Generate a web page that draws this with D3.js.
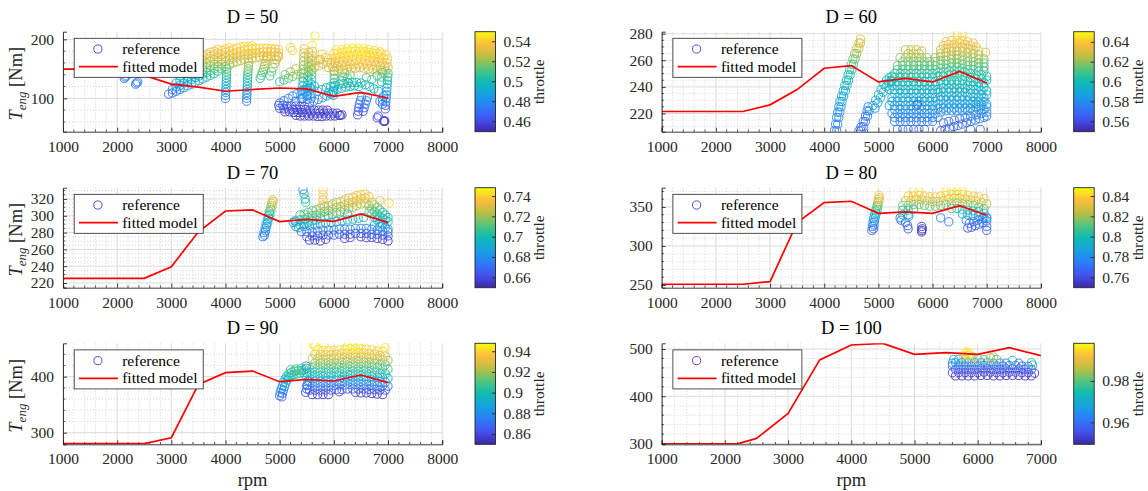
<!DOCTYPE html>
<html>
<head>
<meta charset="utf-8">
<script src="https://cdn.jsdelivr.net/npm/d3@7"></script>
<style>
  body { margin: 0; background: #fff; font-family: 'Liberation Serif'; }
  svg { display: block; }
  svg text { font-family: 'Liberation Serif' !important; }
  .lbl { font-size: 18.5px; fill: #262626; }
  .tck { font-size: 15.5px; fill: #262626; }
  .ttl { font-size: 18.5px; fill: #000; }
  .leg { font-size: 15.5px; fill: #000; }
</style>
</head>
<body>
<svg id="chart" width="1148" height="491">
  <!-- axis labels -->
  <text class="lbl" x="252.6" y="486" text-anchor="middle">rpm</text>
  <text class="lbl" x="851.3" y="486" text-anchor="middle">rpm</text>
  <text class="lbl" transform="translate(22,83.7) rotate(-90)" text-anchor="middle"><tspan font-style="italic">T</tspan><tspan font-style="italic" font-size="13" dy="4">eng</tspan><tspan dy="-4"> [Nm]</tspan></text>
  <text class="lbl" transform="translate(22,239.7) rotate(-90)" text-anchor="middle"><tspan font-style="italic">T</tspan><tspan font-style="italic" font-size="13" dy="4">eng</tspan><tspan dy="-4"> [Nm]</tspan></text>
  <text class="lbl" transform="translate(22,395.8) rotate(-90)" text-anchor="middle"><tspan font-style="italic">T</tspan><tspan font-style="italic" font-size="13" dy="4">eng</tspan><tspan dy="-4"> [Nm]</tspan></text>
</svg>
<script>
// ---------- data ----------
const demands = [50, 60, 70, 80, 90, 100];

// fitted engine torque curves, [rpm, Nm]
const fit50 = [[1000,149.5],[1500,149.5],[2000,148.5],[2500,139],[3000,124],[3500,119],[4000,112],[4500,115],[5000,117.5],[5500,116],[6000,103.5],[6500,110],[7000,100.5]];
const fit60 = [[1000,221.5],[1500,221.5],[2000,221.5],[2500,221.5],[3000,226.5],[3500,238],[4000,254],[4500,256],[5000,243.7],[5500,246.4],[6000,243.7],[6500,251.6],[7000,242.9]];
const fit70 = [[1000,225.6],[1500,225.6],[2000,225.6],[2500,225.6],[3000,239.4],[3500,281],[4000,305.7],[4500,306.9],[5000,293],[5500,295.8],[6000,293.4],[6500,302.1],[7000,291.8]];
const fit80 = [[1000,250.9],[1500,250.9],[2000,250.9],[2500,250.9],[3000,254.3],[3500,330],[4000,355.6],[4500,357.3],[5000,341.9],[5500,343.6],[6000,341.9],[6500,351.7],[7000,339.3]];
const fit90 = [[1000,280.4],[1500,280.4],[2000,280.4],[2500,280.4],[3000,291],[3500,386.3],[4000,407.1],[4500,410.1],[5000,391.1],[5500,395.2],[6000,392.3],[6500,403],[7000,389.3]];
const fit100 = [[1000,299.3],[1500,299.3],[2000,299.3],[2200,299.5],[2500,311],[3000,363.6],[3500,476.9],[4000,508.4],[4500,511.9],[5000,488.8],[5500,492.3],[6000,488.8],[6500,502.8],[7000,486]];

// measured reference points, [rpm, Nm, throttle]
const ref50 = [
[2130,134,.472],[2150,136,.474],[2170,138,.476],[2340,124,.472],[2360,126,.474],[2380,128,.476],
[2950,107,.468],[3020,109,.470],[3020,115,.476],[3090,112,.473],[3090,119,.48],[3090,126,.487],
[3160,115,.476],[3160,122,.483],[3160,130,.492],[3160,138,.50],
[3230,118,.479],[3230,126,.487],[3230,134,.496],[3230,142,.505],[3230,150,.512],
[3300,121,.482],[3300,129,.49],[3300,137,.50],[3300,145,.508],[3300,153,.516],
[3370,124,.485],[3370,132,.494],[3370,140,.503],[3370,148,.511],[3370,156,.519],[3370,162,.524],
[3440,127,.488],[3440,135,.497],[3440,143,.506],[3440,151,.514],[3440,159,.522],[3440,166,.528],
[3510,130,.492],[3510,138,.50],[3510,146,.509],[3510,154,.517],[3510,162,.524],[3510,169,.53],
[3580,133,.495],[3580,141,.504],[3580,149,.512],[3580,157,.52],[3580,165,.527],[3580,172,.532],
[3650,136,.498],[3650,144,.507],[3650,152,.515],[3650,160,.522],[3650,168,.529],[3650,175,.534],
[3720,139,.502],[3720,147,.51],[3720,155,.518],[3720,163,.525],[3720,171,.531],[3720,178,.536],
[3790,142,.505],[3790,150,.513],[3790,158,.52],[3790,166,.527],[3790,174,.533],[3790,180,.537],
[3860,146,.509],[3860,154,.517],[3860,162,.524],[3860,170,.53],[3860,177,.535],[3860,183,.539],
[3930,150,.513],[3930,158,.52],[3930,166,.527],[3930,174,.533],[3930,181,.538],
[4000,154,.517],[4000,162,.524],[4000,170,.53],[4000,178,.536],[4000,184,.54],
[4070,157,.52],[4070,165,.527],[4070,173,.532],[4070,180,.537],[4070,186,.541],
[4140,160,.522],[4140,168,.529],[4140,176,.535],[4140,183,.539],
[4210,162,.524],[4210,170,.53],[4210,178,.536],[4210,185,.541],
[4280,164,.526],[4280,172,.532],[4280,180,.537],[4280,187,.542],
[4350,166,.527],[4350,174,.533],[4350,182,.538],[4350,188,.543],
[4420,167,.528],[4420,175,.534],[4420,183,.539],[4420,188,.543],
[4490,168,.529],[4490,176,.535],[4490,184,.54],[4490,189,.544],
[4560,169,.53],[4560,177,.535],[4560,185,.541],
[4630,170,.53],[4630,178,.536],[4630,185,.541],
[4700,171,.531],[4700,179,.537],[4700,185,.541],
[4770,171,.531],[4770,179,.537],[4770,185,.541],
[4840,171,.531],[4840,179,.537],[4840,184,.54],
[4910,171,.531],[4910,178,.536],[4910,184,.54],
[4980,170,.53],[4980,177,.535],[4980,183,.539],
[4000,100,.475],[4000,105,.478],[4005,110,.482],[4005,115,.486],[4010,120,.49],[4010,125,.494],[4015,130,.498],[4015,135,.502],[4020,140,.506],[4020,145,.51],[4025,150,.514],
[4390,95,.472],[4390,100,.475],[4395,105,.479],[4395,110,.483],[4400,115,.487],[4400,120,.491],[4405,125,.495],[4405,130,.499],[4410,135,.503],[4410,140,.507],[4415,145,.511],[4420,150,.515],[4425,155,.519],[4430,160,.523],
[4640,134,.505],[4660,139,.509],[4680,144,.513],[4700,149,.517],[4715,154,.521],[4730,159,.525],[4745,164,.529],[4760,169,.532],
[4820,138,.508],[4850,145,.512],[4880,152,.517],[4910,159,.522],[4940,166,.528],[4970,172,.532],
[5200,186,.54],[5230,181,.542],[5650,206,.545],[5600,190,.545],[5780,175,.54],[5720,165,.535],
[5420,100,.48],[5420,107,.485],[5425,114,.49],[5425,121,.494],[5430,128,.498],[5430,135,.503],[5435,142,.508],[5435,149,.512],[5440,156,.517],[5440,163,.521],[5445,170,.526],[5445,177,.53],[5450,184,.535],
[5510,98,.478],[5510,106,.484],[5515,114,.49],[5515,122,.495],[5520,130,.50],[5520,138,.505],[5525,146,.51],[5525,154,.516],[5530,162,.522],[5530,170,.527],[5535,178,.532],
[5580,100,.482],[5580,108,.487],[5585,116,.492],[5585,124,.497],[5590,132,.502],[5590,140,.507],[5595,148,.512],[5595,156,.518],[5600,164,.523],[5600,172,.528],[5605,180,.533],
[5300,71,.455],[5380,70,.455],[5460,70,.455],[5540,70,.455],[5620,70,.455],[5700,69,.455],[5780,69,.455],[5860,70,.455],[5940,70,.455],[6020,70,.455],[6100,71,.455],[6150,72,.455],
[5100,77,.457],[5180,77,.457],[5260,76,.456],[5340,76,.456],[5420,76,.456],[5500,75,.456],[5580,75,.456],[5660,75,.456],[5740,75,.456],[5820,75,.456],[5900,75,.456],[5980,75,.456],[6060,75,.456],
[5000,83,.46],[5080,82,.459],[5160,82,.459],[5240,81,.458],[5320,81,.458],[5400,81,.458],[5480,81,.458],[5560,80,.458],[5640,80,.458],[5720,80,.458],[5800,80,.458],[5880,80,.458],
[4980,88,.464],[5060,88,.462],[5140,87,.461],[5220,87,.461],[5300,87,.46],[5380,86,.46],[5460,86,.46],
[5000,92,.468],[5080,96,.471],[5160,100,.474],[5240,104,.477],[5320,108,.48],[5400,112,.483],[5480,115,.486],[5560,118,.489],[5640,121,.491],
[5550,92,.47],[5630,95,.473],[5710,98,.476],[5790,101,.479],[5870,104,.482],[5950,107,.485],
[5300,95,.47],[5400,100,.474],[5500,104,.477],
[5700,112,.49],[5780,115,.492],[5860,118,.494],[5940,120,.496],[6020,122,.497],[6100,124,.498],[6180,125,.499],[6260,126,.50],[6340,127,.50],[6420,127,.50],[6500,126,.50],[6580,123,.498],[6660,120,.496],[6740,116,.494],[6820,112,.492],
[5900,110,.488],[5980,112,.49],[6060,115,.492],[6140,117,.494],[6220,119,.495],[6300,120,.496],[6380,121,.497],[6460,120,.496],
[5000,128,.505],[5080,131,.509],[5160,134,.513],[5240,137,.516],[5320,140,.519],[5400,143,.522],[5480,146,.524],[5560,149,.526],[5640,152,.528],[5720,155,.53],[5800,158,.531],[5880,161,.532],
[5100,140,.515],[5200,145,.52],[5300,150,.524],[5650,163,.53],[5750,166,.532],[5850,169,.534],
[5990,105,.49],[5995,112,.494],[6000,119,.498],[6000,126,.502],[6005,133,.507],[6005,140,.511],[6010,147,.516],
[6150,130,.505],[6170,136,.509],[6200,142,.513],[6250,134,.507],[6300,140,.51],
[6000,146,.525],[6080,147,.526],[6160,148,.527],[6240,149,.528],[6320,150,.529],[6400,151,.53],[6480,152,.53],[6560,151,.53],[6640,150,.529],[6720,149,.528],[6800,148,.527],[6880,147,.526],[6960,146,.525],
[5900,152,.53],[5980,153,.531],[6060,154,.532],[6140,155,.533],[6220,156,.534],[6300,157,.535],[6380,158,.536],[6460,158,.536],[6540,158,.536],[6620,157,.535],[6700,156,.534],[6780,155,.533],[6860,154,.532],[6940,153,.531],[7000,152,.53],
[5940,160,.534],[6020,161,.535],[6100,162,.536],[6180,163,.537],[6260,164,.538],[6340,165,.539],[6420,166,.54],[6500,166,.54],[6580,165,.539],[6660,164,.538],[6740,163,.537],[6820,162,.536],[6900,161,.535],[6980,160,.534],
[5950,168,.538],[6030,169,.539],[6110,170,.54],[6190,171,.541],[6270,172,.542],[6350,173,.542],[6430,174,.543],[6510,174,.543],[6590,173,.542],[6670,172,.542],[6750,171,.541],[6830,170,.54],[6910,169,.539],[6990,167,.538],
[6000,176,.542],[6080,177,.543],[6160,178,.543],[6240,179,.544],[6320,180,.544],[6400,180,.544],[6480,180,.544],[6560,179,.544],[6640,178,.543],[6720,177,.543],[6800,176,.542],[6880,175,.542],[6960,174,.541],
[6050,182,.544],[6150,183,.545],[6250,184,.545],[6350,185,.545],[6450,185,.545],[6550,184,.545],[6650,183,.544],[6750,181,.544],[6850,179,.543],
[6600,135,.51],[6700,132,.508],[6800,138,.512],[6880,128,.505],[6880,136,.51],[6900,144,.515],
[6950,82,.465],[6955,88,.469],[6960,94,.473],[6965,100,.477],[6970,106,.481],[6975,112,.485],[6980,118,.489],[6985,124,.494],[6990,130,.499],[6995,136,.504],[7000,142,.51],
[6900,90,.47],[6900,97,.475],[6920,104,.48],[6850,95,.475],
[6440,72,.46],[6450,78,.463],[6460,84,.466],[6470,90,.47],[6490,96,.474],[6510,102,.478],[6540,78,.462],[6560,84,.466],[6580,90,.47],[6600,96,.474],[6620,102,.478],
[6920,61,.455],[6930,62,.455],[6940,61,.455],[6800,67,.46],[6820,70,.462],[6120,71,.456]
];

const ref60 = [
[4190,207,.574],[4210,212,.576],[4230,217,.578],[4250,221,.58],[4270,225,.583],[4290,229,.586],[4320,233,.589],[4350,237,.592],[4380,241,.595],[4410,245,.598],[4440,249,.601],[4470,253,.605],[4500,257,.61],[4530,261,.615],[4560,265,.62],[4600,269,.625],[4640,273,.63],[4670,276,.632],
[4230,207,.575],[4250,212,.577],[4270,217,.579],[4290,221,.581],[4310,225,.584],[4330,229,.587],[4360,233,.59],[4390,237,.593],[4420,241,.596],[4450,245,.599],[4480,249,.602],[4510,253,.606],[4540,257,.611],[4570,261,.616],[4600,265,.621],[4640,269,.626],[4670,273,.631],
[4640,207,.568],[4680,210,.57],[4720,214,.572],[4760,218,.574],[4790,222,.576],[4810,225,.578],
[4680,207,.568],[4720,210,.57],[4760,214,.572],[4800,218,.574],[4830,222,.576],
[4900,226,.588],[4950,230,.59],[5000,234,.592],[5050,238,.594],[5100,242,.596],[5150,245,.598],[5200,247,.6],[5250,248,.6],
[4940,224,.587],[4990,228,.589],[5040,232,.591],[5090,236,.593],[5140,240,.595],[5190,243,.597],[5240,245,.598],
[6150,207,.565],[6230,208,.566],[6310,209,.567],[6390,210,.568],[6470,211,.569],[6550,212,.57],[6630,213,.571],[6710,214,.572],[6790,215,.573],[6870,216,.574],[6950,217,.575],[7000,218,.576],
[6200,213,.568],[6300,214,.569],[6400,215,.57],[6500,216,.571],[6600,217,.572],[6700,218,.573],[6800,219,.574],[6900,220,.575],[7000,221,.576],
[5350,208,.57],[5450,208,.57],[5550,208,.57],[5650,208,.57],[5750,208,.57],[5850,208,.57],[6700,208,.568],[6880,208,.568],
[5300,214,.574],[5400,214,.574],[5500,214,.574],[5600,214,.574],[5700,214,.574],[5800,214,.574],[5900,214,.574],[6000,214,.574],
[5300,217,.576],[5400,217,.576],[5500,217,.576],[5600,217,.576],[5700,217,.576],[5800,217,.576],[5900,217,.576],[6000,217,.576],[6100,217,.576],
[5250,220,.578],[5350,220,.578],[5450,220,.579],[5550,220,.579],[5650,220,.579],[5750,220,.579],[5850,220,.579],[5950,220,.579],[6050,220,.579],[6150,221,.58],[6250,222,.58],[6350,222,.58],[6450,222,.58],[6550,222,.58],[6650,222,.58],[6750,222,.58],[6850,223,.581],[6950,223,.581],
[5300,223,.581],[5400,223,.581],[5500,223,.581],[5600,223,.581],[5700,223,.581],[5800,223,.581],[5900,223,.581],[6000,223,.581],[6100,224,.582],[6200,224,.582],[6300,224,.582],[6400,224,.582],[6500,224,.582],[6600,224,.582],[6700,224,.582],[6800,225,.583],[6900,225,.583],[7000,225,.583],
[5200,226,.583],[5300,226,.583],[5400,226,.584],[5500,226,.584],[5600,226,.584],[5700,226,.584],[5800,226,.584],[5900,226,.584],[6000,226,.584],[6100,227,.585],[6200,227,.585],[6300,227,.585],[6400,227,.585],[6500,227,.585],[6600,227,.585],[6700,227,.585],[6800,227,.585],[6900,227,.585],[7000,227,.585],
[5250,229,.586],[5350,229,.586],[5450,229,.586],[5550,229,.586],[5650,229,.586],[5750,229,.586],[5850,229,.586],[5950,229,.586],[6050,229,.586],[6150,230,.587],[6250,230,.587],[6350,230,.587],[6450,230,.587],[6550,230,.587],[6650,230,.587],[6750,229,.586],[6850,229,.586],[6950,229,.586],
[5250,232,.588],[5350,232,.588],[5450,232,.589],[5550,232,.589],[5650,232,.589],[5750,232,.589],[5850,232,.589],[5950,232,.589],[6050,232,.589],[6150,233,.59],[6250,233,.59],[6350,233,.59],[6450,233,.59],[6550,233,.59],[6650,233,.59],[6750,232,.589],[6850,232,.589],[6950,232,.589],
[5300,235,.591],[5400,235,.591],[5500,235,.591],[5600,235,.591],[5700,235,.591],[5800,235,.591],[5900,235,.591],[6000,235,.591],[6100,236,.592],[6200,236,.592],[6300,236,.592],[6400,236,.592],[6500,236,.592],[6600,236,.592],[6700,235,.591],[6800,235,.591],[6900,234,.59],[7000,234,.59],
[5200,238,.593],[5300,238,.593],[5400,238,.594],[5500,238,.594],[5600,238,.594],[5700,238,.594],[5800,238,.594],[5900,238,.594],[6000,238,.594],[6100,238,.594],[6200,239,.595],[6300,239,.595],[6400,239,.595],[6500,239,.595],[6600,239,.595],[6700,238,.594],[6800,238,.594],[6900,237,.594],[7000,237,.594],
[5250,241,.596],[5350,241,.596],[5450,241,.596],[5550,241,.596],[5650,241,.596],[5750,241,.596],[5850,241,.596],[5950,241,.596],[6050,241,.596],[6150,242,.597],[6250,242,.597],[6350,242,.597],[6450,242,.597],[6550,242,.597],[6650,241,.596],[6750,241,.596],[6850,240,.595],[6950,240,.595],
[5250,244,.598],[5350,244,.598],[5450,244,.599],[5550,244,.599],[5650,244,.599],[5750,244,.599],[5850,244,.599],[5950,244,.599],[6050,244,.599],[6150,245,.60],[6250,245,.60],[6350,245,.60],[6450,245,.60],[6550,245,.60],[6650,244,.599],[6750,244,.599],[6850,243,.598],[6950,243,.598],
[5300,247,.601],[5400,247,.601],[5500,247,.601],[5600,247,.601],[5700,247,.601],[5800,247,.601],[5900,247,.601],[6000,247,.601],[6100,248,.602],[6200,248,.602],[6300,249,.603],[6400,249,.603],[6500,249,.603],[6600,248,.602],[6700,247,.601],[6800,246,.60],[6900,246,.60],[7000,245,.60],
[5300,250,.603],[5400,250,.604],[5500,250,.604],[5600,250,.604],[5700,250,.604],[5800,250,.604],[5900,250,.604],[6000,250,.604],[6100,251,.605],[6200,251,.605],[6300,252,.606],[6400,252,.606],[6500,252,.606],[6600,251,.605],[6700,250,.604],[6800,249,.603],[6900,249,.603],[7000,248,.602],
[5350,253,.607],[5450,253,.607],[5550,253,.607],[5650,253,.607],[5750,253,.607],[5850,253,.607],[5950,253,.607],[6050,253,.607],[6150,254,.608],[6250,254,.608],[6350,255,.609],[6450,255,.609],[6550,254,.608],[6650,253,.607],[6750,253,.607],[6850,252,.606],[6950,252,.606],
[5350,256,.61],[5450,256,.611],[5550,256,.611],[5650,256,.611],[5750,256,.611],[5850,256,.611],[5950,256,.611],[6050,256,.611],[6150,257,.612],[6250,257,.612],[6350,258,.613],[6450,258,.613],[6550,257,.612],[6650,256,.611],[6750,256,.611],[6850,255,.61],[6950,255,.61],
[5450,259,.615],[5550,259,.615],[5650,259,.615],[5750,259,.615],[5850,259,.615],[5950,259,.615],[6050,259,.615],[6150,260,.616],[6250,260,.617],[6350,261,.618],[6450,261,.618],[6550,260,.617],[6650,259,.615],[6750,259,.615],[6850,258,.614],[6950,258,.614],
[5400,262,.619],[5500,262,.62],[5600,262,.62],[5700,262,.62],[5800,262,.62],[5900,262,.62],[6050,262,.62],[6150,263,.621],[6250,263,.622],[6350,264,.623],[6450,264,.623],[6550,263,.622],[6650,262,.62],[6750,262,.62],[6850,261,.619],[6950,261,.619],
[5550,265,.624],[5650,265,.624],[5750,265,.624],[6150,265,.624],[6250,266,.625],[6350,267,.626],[6450,267,.627],[6550,267,.627],[6650,266,.625],[6750,265,.624],[6850,264,.623],
[5500,268,.628],[5600,268,.628],[5700,268,.628],[5800,267,.627],[6150,268,.628],[6250,269,.629],[6350,269,.63],[6450,270,.631],[6550,270,.631],[6650,269,.63],[6750,268,.628],[6850,267,.627],
[6200,271,.633],[6300,272,.634],[6400,272,.635],[6500,273,.636],[6600,272,.635],[6700,271,.633],[6800,270,.632],
[6250,274,.637],[6350,275,.638],[6450,275,.638],[6550,275,.638],[6650,274,.637],[6750,273,.636],
[6450,279,.644],[6550,280,.645],[6980,266,.63],[5720,227,.56]
];

const ref70 = [
[4690,275,.672],[4710,280,.676],[4730,285,.68],[4750,290,.685],[4770,295,.69],[4790,300,.697],[4810,305,.705],[4830,310,.715],[4850,315,.725],[4870,319,.733],
[4720,277,.674],[4740,282,.678],[4760,287,.682],[4780,292,.687],[4800,297,.693],[4820,302,.70],[4840,307,.71],[4860,312,.72],[4880,317,.73],
[5250,292,.682],[5280,294,.69],
[5300,287,.692],[5375,289,.694],[5450,290,.696],[5525,292,.698],[5600,294,.70],[5675,295,.702],[5750,297,.704],[5825,299,.706],[5900,300,.708],[5975,302,.71],[6050,304,.712],[6125,305,.714],[6200,307,.716],[6275,309,.718],[6350,310,.72],[6425,312,.722],[6500,314,.724],[6575,315,.726],
[5300,293,.70],[5375,295,.702],[5450,296,.704],[5525,298,.706],[5600,300,.708],[5675,301,.71],[5750,303,.712],[5825,305,.714],[5900,306,.716],[5975,308,.718],[6050,310,.72],[6125,311,.722],[6200,313,.724],[6275,315,.726],[6350,316,.728],[6425,318,.73],[6500,320,.732],[6575,321,.734],[6650,323,.735],
[5375,301,.707],[5450,302,.709],[5525,304,.711],[5600,306,.713],[5675,307,.715],[5750,309,.717],[5825,311,.719],[5900,312,.721],[5975,314,.723],[6050,316,.725],[6125,317,.727],[6200,319,.729],[6275,321,.731],[6350,322,.733],[6425,324,.735],[6500,325,.737],[6575,326,.738],
[5350,286,.685],[5450,287,.686],[5550,288,.687],[5650,289,.688],[5750,290,.689],[5850,291,.69],[5950,292,.691],[6050,293,.692],[6150,294,.693],[6250,295,.694],[6350,296,.695],[6450,297,.696],[6550,298,.697],
[5400,281,.673],[5500,281,.673],[5600,281,.673],[5700,282,.674],[5800,283,.675],[5900,283,.675],[6000,283,.675],[6100,284,.676],[6200,284,.676],[6300,284,.676],[6400,285,.677],[6500,285,.677],[6600,285,.677],[6700,284,.676],[6800,283,.675],[6900,282,.674],[7000,281,.673],
[5500,275,.663],[5600,276,.664],[5700,276,.664],[5800,277,.665],[5900,277,.665],[6000,277,.665],[6100,278,.666],[6200,278,.666],[6300,278,.666],[6400,279,.667],[6500,279,.667],[6600,279,.667],[6700,278,.666],[6800,278,.666],[6900,277,.665],[7000,276,.664],
[5550,271,.656],[5650,271,.656],[5750,270,.655],[5850,272,.657],[6200,273,.658],[6300,274,.659],[6500,275,.66],[6600,274,.659],[6700,274,.659],[6800,273,.658],[6900,272,.657],[7000,270,.655],
[6650,312,.72],[6700,308,.715],[6750,305,.71],[6800,302,.705],[6850,299,.70],[6900,297,.698],[6950,295,.695],[7000,293,.692],
[6700,316,.725],[6750,313,.72],[6800,310,.712],[6850,307,.708],[6900,304,.705],[6950,301,.702],[7000,298,.70],
[6650,305,.712],[6700,302,.708],[6750,298,.703],[6800,295,.698],[6850,292,.694],[6900,290,.69],
[6750,289,.685],[6850,287,.683],[6950,286,.682],[7000,284,.68],
[5430,331,.68],[5450,326,.69],[5470,320,.70],[5480,316,.705],[5800,331,.74],[5800,325,.738],[5800,319,.735],[5800,313,.732],[6850,318,.735],[7020,315,.742],[6250,302,.70]
];

const ref80 = [
[4880,320,.765],[4890,325,.772],[4900,330,.778],[4910,335,.785],[4930,340,.792],[4950,345,.80],[4970,350,.81],[4985,355,.82],[5000,360,.83],[5010,365,.838],
[4910,322,.767],[4920,327,.774],[4930,332,.78],[4945,337,.788],[4960,342,.795],[4980,347,.805],[4995,352,.815],[5010,357,.825],[5020,362,.834],
[5400,336,.775],[5420,333,.772],[5500,330,.77],[5540,326,.768],[5550,322,.765],[5560,338,.78],
[5650,370,.843],[5750,370,.843],[6250,370,.843],[6350,371,.844],[6450,371,.844],[6550,370,.843],
[5550,364,.838],[5650,364,.838],[5750,365,.839],[5850,364,.838],[5950,363,.837],[6050,363,.837],[6150,364,.838],[6250,365,.839],[6350,366,.84],[6450,366,.84],[6550,366,.84],[6650,365,.839],[6750,364,.838],[6850,363,.837],[6950,361,.835],
[5500,358,.828],[5600,358,.828],[5700,359,.829],[5800,359,.829],[5900,358,.828],[6000,357,.827],[6100,357,.827],[6200,358,.828],[6300,360,.83],[6400,361,.831],[6500,361,.831],[6600,360,.83],[6700,359,.829],[6800,358,.828],[6900,356,.826],[7000,354,.824],
[5450,352,.815],[5550,352,.815],[5650,353,.817],[5750,353,.817],[5850,352,.815],[5950,351,.814],[6050,351,.814],[6150,352,.815],[6250,353,.817],[6350,354,.818],[6450,355,.819],[6550,354,.818],[6650,353,.817],[6750,352,.815],[6850,350,.812],[6950,348,.81],
[5450,346,.80],[5550,346,.80],[5650,347,.802],[6350,348,.804],[6450,348,.804],[6550,347,.802],[6650,346,.80],[6750,345,.798],[6850,344,.796],[6950,342,.794],
[5450,340,.79],[5550,340,.79],[6550,341,.791],[6650,340,.79],[6750,339,.789],[6850,338,.787],[6950,336,.785],[7000,335,.784],
[6650,323,.762],[6720,324,.764],[6790,326,.766],[6860,328,.768],[6930,330,.77],[7000,332,.772],
[6680,329,.768],[6760,331,.77],[6840,333,.772],[6920,335,.775],[7000,337,.778],
[5800,320,.752],[5800,318,.752],[5810,322,.754],[5800,325,.756],
[6150,336,.78],[6300,331,.775],[7000,320,.765],[7000,325,.77],[6620,333,.78]
];

const ref90 = [
[5000,366,.87],[5010,372,.875],[5030,378,.88],[5050,384,.885],[5070,390,.89],[5100,396,.895],[5130,401,.90],[5170,405,.903],[5220,408,.905],[5280,410,.906],[5340,411,.907],[5400,411,.907],[5460,412,.908],
[5040,364,.868],[5050,370,.872],[5070,376,.877],[5090,382,.882],[5110,388,.887],[5140,394,.892],[5170,399,.897],[5210,402,.90],[5260,404,.902],[5320,405,.903],[5380,406,.904],[5440,407,.905],[5500,407,.905],
[5200,412,.906],[5300,414,.908],[5400,415,.909],
[5480,372,.86],[5500,378,.865],[5510,385,.87],[5520,392,.878],[5500,415,.89],[5490,419,.875],
[5600,368,.855],[5700,368,.855],[5800,368,.855],[5900,368,.855],[6400,372,.857],[6500,371,.856],[6600,371,.856],[6700,370,.855],[6800,369,.855],[6900,368,.855],
[5550,376,.863],[5650,376,.863],[5750,376,.863],[5850,376,.863],[5950,376,.863],[6050,377,.864],[6150,377,.864],[6250,378,.865],[6350,378,.865],[6450,378,.865],[6550,378,.865],[6650,377,.864],[6750,377,.864],[6850,376,.863],[6950,376,.863],
[5500,384,.872],[5600,384,.872],[5700,384,.872],[5800,384,.872],[5900,384,.872],[6000,384,.872],[6100,385,.873],[6200,385,.873],[6300,386,.874],[6400,386,.874],[6500,386,.874],[6600,386,.874],[6700,385,.873],[6800,384,.872],[6900,384,.872],[7000,383,.871],
[5550,392,.882],[5650,392,.882],[5750,392,.882],[5850,392,.882],[5950,392,.882],[6050,393,.883],[6150,393,.883],[6250,394,.884],[6350,394,.884],[6450,394,.884],[6550,394,.884],[6650,393,.883],[6750,392,.882],[6850,391,.881],[6950,390,.88],
[5500,400,.892],[5600,400,.892],[5700,400,.892],[5800,400,.892],[5900,400,.892],[6000,400,.892],[6100,401,.893],[6200,401,.893],[6300,402,.894],[6400,402,.894],[6500,402,.894],[6600,401,.893],[6700,400,.892],[6800,399,.891],[6900,398,.89],[7000,397,.889],
[5550,408,.90],[5650,408,.90],[5750,408,.90],[5850,407,.90],[5950,407,.90],[6050,408,.90],[6150,409,.901],[6250,409,.901],[6350,410,.902],[6450,410,.902],[6550,410,.902],[6650,409,.901],[6750,408,.90],[6850,406,.898],[6950,405,.897],
[5600,416,.908],[5700,416,.908],[5800,416,.908],[5900,415,.907],[6000,416,.908],[6100,417,.909],[6200,417,.909],[6300,418,.91],[6400,418,.91],[6500,418,.91],[6600,418,.91],[6700,417,.909],[6800,416,.908],[6900,414,.906],[7000,413,.905],
[5650,424,.915],[5750,424,.915],[5850,423,.914],[5950,423,.914],[6050,424,.915],[6150,425,.916],[6250,426,.917],[6350,426,.917],[6450,427,.918],[6550,426,.917],[6650,425,.916],[6750,424,.915],[6850,422,.913],[6950,421,.912],
[5600,432,.923],[5700,432,.923],[5800,431,.922],[5900,431,.922],[6000,432,.923],[6100,433,.924],[6200,434,.925],[6300,434,.925],[6400,435,.926],[6500,435,.926],[6600,434,.925],[6700,433,.924],[6800,432,.923],[6900,430,.921],[7000,429,.92],
[5650,440,.93],[5750,440,.93],[5850,439,.93],[5950,439,.93],[6050,440,.93],[6150,441,.931],[6250,442,.932],[6350,442,.932],[6450,443,.933],[6550,442,.932],[6650,441,.931],[6750,440,.93],[6850,438,.929],[6950,437,.928],
[5700,448,.94],[5800,447,.939],[5900,446,.938],[6000,447,.939],[6100,448,.94],[6200,449,.941],[6300,450,.942],[6400,450,.942],[6500,450,.942],[6600,449,.941],[6700,448,.94],[6800,446,.938],[6900,445,.937],
[5650,455,.945],[6250,455,.945],[6350,456,.946],[6450,455,.945],
[5620,458,.945],[5820,458,.945],[6950,452,.945],[6100,373,.86]
];

const ref100 = [
[5650,443,.951],[5750,443,.951],[5850,443,.951],[5950,443,.951],[6050,444,.951],[6150,444,.951],[6250,443,.951],[6350,443,.951],[6450,444,.951],[6550,444,.951],[6650,444,.951],[6750,443,.951],[6850,443,.951],
[5600,450,.953],[5700,450,.953],[5800,450,.953],[5900,450,.953],[6000,450,.953],[6100,451,.953],[6200,451,.953],[6300,450,.953],[6400,450,.953],[6500,451,.953],[6600,451,.953],[6700,450,.953],[6800,450,.953],[6900,449,.952],
[5650,457,.956],[5750,457,.956],[5850,457,.956],[5950,457,.956],[6050,458,.956],[6150,458,.956],[6250,457,.956],[6350,457,.956],[6450,458,.956],[6550,458,.956],[6650,458,.956],[6750,457,.956],[6850,457,.956],
[5600,464,.959],[5700,464,.959],[5800,464,.959],[5900,464,.959],[6000,464,.959],[6100,465,.96],[6200,465,.96],[6300,464,.959],[6400,464,.959],[6500,465,.96],[6600,465,.96],[6700,464,.959],[6800,463,.958],
[5650,471,.963],[5750,471,.963],[5850,471,.963],[5950,471,.963],[6050,471,.963],[6150,471,.963],[6250,470,.962],[6350,470,.962],[6450,470,.962],[6650,470,.962],
[6550,476,.975],[6850,471,.976],[6870,466,.972],[5600,470,.965],[5620,478,.968],
[5700,478,.97],[5800,478,.975],[5900,479,.98],[6000,479,.982],[6100,478,.98],[6200,481,.984],[6250,483,.986],[6300,478,.98],
[5780,485,.99],[5850,486,.993],[5920,484,.99],
[5800,491,.996],[5830,494,.997],[5860,490,.995]
];

// axis ticks
const rpmTicks8000 = [1000,2000,3000,4000,5000,6000,7000,8000];
const rpmTicks7000 = [1000,2000,3000,4000,5000,6000,7000];
const torqueTicks50 = [100,200];
const torqueTicks60 = [220,240,260,280];
const torqueTicks70 = [220,240,260,280,300,320];
const torqueTicks80 = [250,300,350];
const torqueTicks90 = [300,400];
const torqueTicks100 = [300,400,500];
const throttleTicks50 = [0.46,0.48,0.50,0.52,0.54];
const throttleTicks60 = [0.56,0.58,0.60,0.62,0.64];
const throttleTicks70 = [0.66,0.68,0.70,0.72,0.74];
const throttleTicks80 = [0.76,0.78,0.80,0.82,0.84];
const throttleTicks90 = [0.86,0.88,0.90,0.92,0.94];
const throttleTicks100 = [0.96,0.98];

// ---------- panel setup ----------
const panels = [
  {D: demands[0], col: 0, row: 0, x: [1000,8000], xt: rpmTicks8000, y: [43.4,213],   yt: torqueTicks50,  ym: 20, c: [0.4495,0.5496], ct: throttleTicks50,  fit: fit50,  ref: ref50},
  {D: demands[1], col: 1, row: 0, x: [1000,8000], xt: rpmTicks8000, y: [206.3,281.5], yt: torqueTicks60,  ym: 5,  c: [0.5494,0.6502], ct: throttleTicks60,  fit: fit60,  ref: ref60},
  {D: demands[2], col: 0, row: 1, x: [1000,8000], xt: rpmTicks8000, y: [214.4,333.4], yt: torqueTicks70,  ym: 5,  c: [0.6498,0.7482], ct: throttleTicks70,  fit: fit70,  ref: ref70},
  {D: demands[3], col: 1, row: 1, x: [1000,8000], xt: rpmTicks8000, y: [246.5,374.7], yt: torqueTicks80,  ym: 10, c: [0.7498,0.8482], ct: throttleTicks80,  fit: fit80,  ref: ref80},
  {D: demands[4], col: 0, row: 2, x: [1000,8000], xt: rpmTicks8000, y: [279.3,459.6], yt: torqueTicks90,  ym: 20, c: [0.8500,0.9477], ct: throttleTicks90,  fit: fit90,  ref: ref90},
  {D: demands[5], col: 1, row: 2, x: [1000,7000], xt: rpmTicks7000, y: [298.5,512],   yt: torqueTicks100, ym: 20, c: [0.9494,0.9982], ct: throttleTicks100, fit: fit100, ref: ref100}
];

const colLeft = [63, 661.7];
const rowTop = [31.7, 187.7, 343.3];
const rowH = [100, 100, 101];
const plotW = 379.2;
const axisColor = "#262626";

// parula-like colour map
const parula = d3.piecewise(d3.interpolateRgb, [
  "#3e26a8", "#4352ef", "#2d7cf8", "#17a2e0", "#0ebbb3", "#53c57c", "#bcbe43", "#fcbd3d", "#f9fb0e"
]);

const svg = d3.select("#chart");
const defs = svg.append("defs");

// shared vertical gradient for the colour bars
const grad = defs.append("linearGradient").attr("id", "cbgrad")
  .attr("x1", 0).attr("y1", 1).attr("x2", 0).attr("y2", 0);
d3.range(0, 1.0001, 0.02).forEach(t => {
  grad.append("stop").attr("offset", t).attr("stop-color", parula(t));
});

function steps(a, b, step) {
  const out = [];
  const n = Math.round((b - a) / step);
  for (let i = 0; i <= n; i++) out.push(+(a + i * step).toFixed(6));
  return out;
}

panels.forEach((p, i) => {
  const x0 = colLeft[p.col], y0 = rowTop[p.row], h = rowH[p.row];
  const xs = d3.scaleLinear().domain(p.x).range([x0, x0 + plotW]);
  const ys = d3.scaleLinear().domain(p.y).range([y0 + h, y0]);
  const cs = v => parula(Math.max(0, Math.min(1, (v - p.c[0]) / (p.c[1] - p.c[0]))));

  const g = svg.insert("g", ":first-child");
  defs.append("clipPath").attr("id", "clip" + i)
    .append("rect").attr("x", x0).attr("y", y0).attr("width", plotW).attr("height", h);

  // minor grid (dotted)
  const xMinor = steps(p.x[0], p.x[1], 200).filter(v => !p.xt.includes(v));
  const yMinor = steps(Math.ceil(p.y[0] / p.ym) * p.ym, Math.floor(p.y[1] / p.ym) * p.ym, p.ym)
    .filter(v => !p.yt.includes(v));
  const grid = g.append("g");
  grid.selectAll(".xm").data(xMinor).join("line")
    .attr("x1", d => xs(d)).attr("x2", d => xs(d)).attr("y1", y0).attr("y2", y0 + h)
    .attr("stroke", "#c4c4c4").attr("stroke-width", 0.7).attr("stroke-dasharray", "1,2");
  grid.selectAll(".ymn").data(yMinor).join("line")
    .attr("y1", d => ys(d)).attr("y2", d => ys(d)).attr("x1", x0).attr("x2", x0 + plotW)
    .attr("stroke", "#c4c4c4").attr("stroke-width", 0.7).attr("stroke-dasharray", "1,2");
  // major grid
  grid.selectAll(".xM").data(p.xt).join("line")
    .attr("x1", d => xs(d)).attr("x2", d => xs(d)).attr("y1", y0).attr("y2", y0 + h)
    .attr("stroke", "#dcdcdc").attr("stroke-width", 1);
  grid.selectAll(".yM").data(p.yt).join("line")
    .attr("y1", d => ys(d)).attr("y2", d => ys(d)).attr("x1", x0).attr("x2", x0 + plotW)
    .attr("stroke", "#dcdcdc").attr("stroke-width", 1);

  // reference scatter
  const plot = g.append("g").attr("clip-path", `url(#clip${i})`);
  plot.selectAll("circle").data(p.ref).join("circle")
    .attr("cx", d => xs(d[0])).attr("cy", d => ys(d[1])).attr("r", 4.1)
    .attr("fill", "none").attr("stroke", d => cs(d[2])).attr("stroke-width", 0.9);

  // fitted model
  plot.append("path").datum(p.fit)
    .attr("d", d3.line().x(d => xs(d[0])).y(d => ys(d[1])))
    .attr("fill", "none").attr("stroke", "#ff0000").attr("stroke-width", 1.7);

  // axes, ticks pointing inward
  const xAxis = d3.axisBottom(xs).tickValues(p.xt).tickSize(-4).tickPadding(8).tickFormat(d3.format("d"));
  const gx = g.append("g").attr("transform", `translate(0,${y0 + h})`).call(xAxis);
  const yAxis = d3.axisLeft(ys).tickValues(p.yt).tickSize(-4).tickPadding(9).tickFormat(d3.format("d"));
  const gy = g.append("g").attr("transform", `translate(${x0},0)`).call(yAxis);
  [gx, gy].forEach(ax => {
    ax.attr("font-family", null).attr("font-size", null);
    ax.select(".domain").attr("stroke", axisColor).attr("stroke-width", 0.9);
    ax.selectAll(".tick line").attr("stroke", axisColor).attr("stroke-width", 0.9);
    ax.selectAll(".tick text").attr("class", "tck").attr("fill", null);
  });
  gx.selectAll(".tick text").attr("dy", "0.78em");
  // minor ticks
  g.append("g").selectAll("line").data(xMinor).join("line")
    .attr("x1", d => xs(d)).attr("x2", d => xs(d)).attr("y1", y0 + h).attr("y2", y0 + h - 2.2)
    .attr("stroke", axisColor).attr("stroke-width", 0.8);
  g.append("g").selectAll("line").data(yMinor).join("line")
    .attr("y1", d => ys(d)).attr("y2", d => ys(d)).attr("x1", x0).attr("x2", x0 + 2.2)
    .attr("stroke", axisColor).attr("stroke-width", 0.8);

  // title
  g.append("text").attr("class", "ttl").attr("x", x0 + plotW / 2).attr("y", y0 - 9)
    .attr("text-anchor", "middle").text(`D = ${p.D}`);

  // legend
  const lx = x0 + 11.2, ly = y0 + 6.6;
  const lg = g.append("g");
  lg.append("rect").attr("x", lx).attr("y", ly).attr("width", 129).attr("height", 39)
    .attr("fill", "#fff").attr("stroke", axisColor).attr("stroke-width", 0.8);
  lg.append("circle").attr("cx", lx + 23.7).attr("cy", ly + 10.7).attr("r", 4.1)
    .attr("fill", "none").attr("stroke", "#4a3cc4").attr("stroke-width", 0.9);
  lg.append("line").attr("x1", lx + 4.7).attr("x2", lx + 43.7).attr("y1", ly + 28.4).attr("y2", ly + 28.4)
    .attr("stroke", "#ff0000").attr("stroke-width", 1.7);
  lg.append("text").attr("class", "leg").attr("x", lx + 48).attr("y", ly + 15.8).text("reference");
  lg.append("text").attr("class", "leg").attr("x", lx + 48).attr("y", ly + 33.5).text("fitted model");

  // colour bar
  const cbx = x0 + 412, cbw = 20.5;
  const cbs = d3.scaleLinear().domain(p.c).range([y0 + h, y0]);
  g.append("rect").attr("x", cbx).attr("y", y0).attr("width", cbw).attr("height", h)
    .attr("fill", "url(#cbgrad)").attr("stroke", axisColor).attr("stroke-width", 0.9);
  const cax = d3.axisRight(cbs).tickValues(p.ct).tickSize(-3.5).tickPadding(8)
    .tickFormat(v => String(+v.toFixed(2)));
  const gc = g.append("g").attr("transform", `translate(${cbx + cbw},0)`).call(cax);
  gc.attr("font-family", null).attr("font-size", null);
  gc.select(".domain").remove();
  gc.selectAll(".tick line").attr("stroke", axisColor).attr("stroke-width", 0.9);
  gc.selectAll(".tick text").attr("class", "tck").attr("fill", null);
  g.append("text").attr("class", "tck")
    .attr("transform", `translate(${x0 + 481.3},${y0 + h / 2}) rotate(-90)`)
    .attr("text-anchor", "middle").text("throttle");
});
</script>
</body>
</html>
